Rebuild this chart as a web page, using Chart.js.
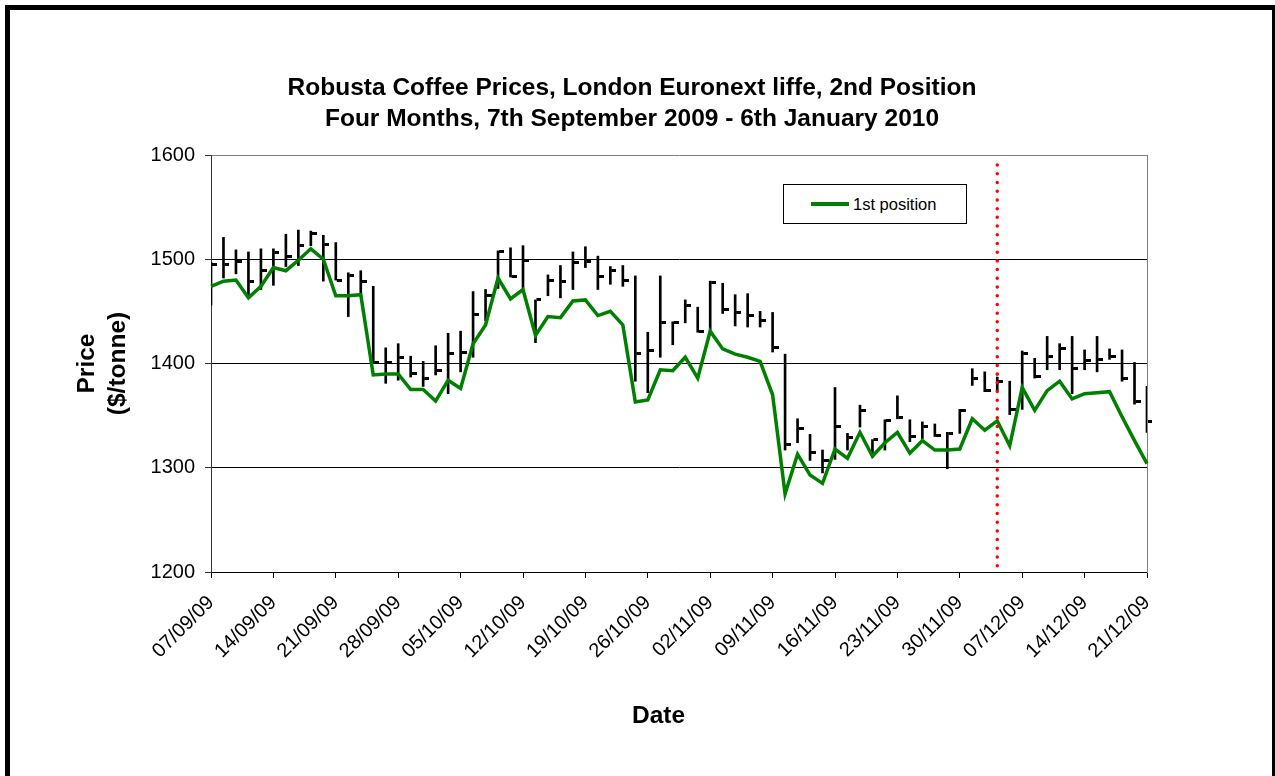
<!DOCTYPE html>
<html>
<head>
<meta charset="utf-8">
<title>Robusta Coffee Prices</title>
<script src="https://cdn.jsdelivr.net/npm/chart.js@4.4.1/dist/chart.umd.min.js"></script>
<style>
    html, body { margin: 0; padding: 0; background: #fff; overflow: hidden; }
    #wrap { position: relative; width: 1275px; height: 776px; overflow: hidden; }
    #frame {
        position: absolute; left: 5px; top: 5px; width: 1262px; height: 800px;
        border: 5px solid #000; pointer-events: none;
    }
    #title {
        position: absolute; left: 0; top: 71px; width: 1264px; text-align: center;
        font: bold 24.5px "Liberation Sans", Arial, sans-serif; line-height: 31px; color: #000;
    }
    #legend {
        position: absolute; left: 783px; top: 184px; width: 182px; height: 38px;
        border: 1px solid #000; background: #fff;
        font: 16.5px "Liberation Sans", Arial, sans-serif; color: #000;
    }
    #legend .swatch { position: absolute; left: 27px; top: 17px; width: 38px; height: 4px; }
    #legend .label { position: absolute; left: 69px; top: 9px; line-height: 20px; }
    canvas { position: absolute; left: 0; top: 0; }
</style>
</head>
<body>
<div id="wrap">
    <canvas id="priceChart" width="1275" height="776"></canvas>
    <div id="title">Robusta Coffee Prices, London Euronext liffe, 2nd Position<br>Four Months, 7th September 2009 - 6th January 2010</div>
    <div id="legend"></div>
    <div id="frame"></div>
</div>
<script>
// ===========================
// DATA
// ===========================
const dates = [
    "07/09/09", "08/09/09", "09/09/09", "10/09/09", "11/09/09",
    "14/09/09", "15/09/09", "16/09/09", "17/09/09", "18/09/09",
    "21/09/09", "22/09/09", "23/09/09", "24/09/09", "25/09/09",
    "28/09/09", "29/09/09", "30/09/09", "01/10/09", "02/10/09",
    "05/10/09", "06/10/09", "07/10/09", "08/10/09", "09/10/09",
    "12/10/09", "13/10/09", "14/10/09", "15/10/09", "16/10/09",
    "19/10/09", "20/10/09", "21/10/09", "22/10/09", "23/10/09",
    "26/10/09", "27/10/09", "28/10/09", "29/10/09", "30/10/09",
    "02/11/09", "03/11/09", "04/11/09", "05/11/09", "06/11/09",
    "09/11/09", "10/11/09", "11/11/09", "12/11/09", "13/11/09",
    "16/11/09", "17/11/09", "18/11/09", "19/11/09", "20/11/09",
    "23/11/09", "24/11/09", "25/11/09", "26/11/09", "27/11/09",
    "30/11/09", "01/12/09", "02/12/09", "03/12/09", "04/12/09",
    "07/12/09", "08/12/09", "09/12/09", "10/12/09", "11/12/09",
    "14/12/09", "15/12/09", "16/12/09", "17/12/09", "18/12/09",
    "21/12/09"
];

const tickDates = [
    "07/09/09", "14/09/09", "21/09/09", "28/09/09", "05/10/09", "12/10/09",
    "19/10/09", "26/10/09", "02/11/09", "09/11/09", "16/11/09", "23/11/09",
    "30/11/09", "07/12/09", "14/12/09", "21/12/09"
];

// 1st position (green line)
const firstPosition = [
    1474, 1479, 1480, 1463, 1474, 1492, 1489, 1499, 1510, 1500,
    1465, 1465, 1466, 1389, 1390, 1390, 1375, 1375, 1364, 1384,
    1376, 1419, 1437, 1482, 1462, 1471, 1427, 1445, 1444, 1460,
    1461, 1446, 1450, 1437, 1363, 1365, 1394, 1393, 1406, 1386,
    1431, 1414, 1409, 1406, 1402, 1370, 1275, 1313, 1293, 1285,
    1318, 1309, 1334, 1311, 1324, 1334, 1314, 1326, 1317, 1317,
    1318, 1347, 1336, 1345, 1321, 1377, 1355, 1374, 1383, 1366,
    1371, 1372, 1373, 1349, 1326, 1304
];

// 2nd position high / low / close bars
const secondHigh = [
    1497, 1521, 1509, 1507, 1510, 1510, 1524, 1528, 1527, 1523,
    1516, 1487, 1489, 1474, 1415, 1419, 1407, 1402, 1417, 1429,
    1431, 1469, 1471, 1508, 1511, 1513, 1461, 1485, 1494, 1507,
    1512, 1503, 1493, 1494, 1484, 1430, 1484, 1440, 1461, 1454,
    1479, 1477, 1466, 1467, 1450, 1449, 1409, 1347, 1332, 1317,
    1377, 1333, 1360, 1327, 1346, 1369, 1346, 1344, 1342, 1334,
    1356, 1395, 1392, 1387, 1383, 1412, 1405, 1426, 1419, 1426,
    1413, 1426, 1414, 1413, 1401, 1378
];

const secondLow = [
    1456, 1482, 1486, 1464, 1471, 1475, 1493, 1494, 1513, 1479,
    1480, 1445, 1467, 1400, 1381, 1384, 1387, 1378, 1389, 1371,
    1392, 1406, 1441, 1472, 1483, 1472, 1420, 1465, 1463, 1471,
    1492, 1471, 1476, 1474, 1383, 1372, 1406, 1418, 1439, 1430,
    1432, 1448, 1436, 1435, 1435, 1411, 1317, 1324, 1307, 1295,
    1308, 1317, 1339, 1310, 1317, 1347, 1325, 1328, 1330, 1299,
    1333, 1379, 1373, 1374, 1351, 1356, 1386, 1394, 1394, 1371,
    1394, 1392, 1404, 1383, 1361, 1334
];

const secondClose = [
    1495, 1495, 1498, 1479, 1489, 1506, 1503, 1513, 1525, 1514,
    1480, 1484, 1479, 1401, 1401, 1406, 1390, 1386, 1393, 1410,
    1411, 1447, 1465, 1507, 1483, 1499, 1461, 1480, 1479, 1497,
    1498, 1483, 1489, 1480, 1410, 1412, 1439, 1439, 1456, 1431,
    1478, 1452, 1449, 1446, 1441, 1415, 1322, 1338, 1315, 1307,
    1340, 1329, 1355, 1327, 1345, 1348, 1330, 1340, 1331, 1333,
    1355, 1386, 1374, 1383, 1356, 1410, 1388, 1407, 1414, 1395,
    1403, 1404, 1407, 1386, 1364, 1344
];

// red dotted marker
const markerDate = "03/12/09";
const markerRange = [1206, 1594];

// ===========================
// CLOSE TICK (small dash right of each bar)
// ===========================
const closeTick = document.createElement("canvas");
closeTick.width = 12;
closeTick.height = 3;
const tctx = closeTick.getContext("2d");
tctx.fillStyle = "#000";
tctx.fillRect(7, 0, 5, 3);

// ===========================
// HTML LEGEND
// ===========================
const legendEl = document.getElementById("legend");
legendEl.innerHTML =
    '<span class="swatch" style="background:#008000"></span>' +
    '<span class="label">1st position</span>';

// ===========================
// CHART
// ===========================
const FONT = "'Liberation Sans', Arial, sans-serif";
const ctx = document.getElementById("priceChart").getContext("2d");

new Chart(ctx, {
    type: "bar",
    data: {
        labels: dates,
        datasets: [
            {
                type: "line",
                label: "marker",
                data: markerRange.map(v => ({ x: markerDate, y: v })),
                borderColor: "#ff0000",
                borderWidth: 3.5,
                borderCapStyle: "round",
                borderDash: [0.01, 8.7],
                pointRadius: 0
            },
            {
                type: "line",
                label: "1st position",
                data: firstPosition,
                borderColor: "#008000",
                borderWidth: 3.5,
                pointRadius: 0,
                tension: 0
            },
            {
                type: "line",
                label: "2nd position close",
                data: secondClose,
                showLine: false,
                pointStyle: closeTick,
                pointRadius: 3
            },
            {
                type: "bar",
                label: "2nd position range",
                data: secondLow.map((lo, i) => [lo, secondHigh[i]]),
                backgroundColor: "#000",
                borderWidth: 0,
                barThickness: 2
            }
        ]
    },
    options: {
        responsive: false,
        animation: false,
        events: [],
        layout: { padding: { left: 60, right: 128, top: 155, bottom: 0 } },
        plugins: {
            legend: { display: false },
            tooltip: { enabled: false }
        },
        scales: {
            x: {
                type: "category",
                offset: false,
                // keep only the weekly (Monday) ticks
                afterBuildTicks: s => {
                    s.ticks = s.ticks.filter(t => tickDates.includes(dates[t.value]));
                },
                grid: {
                    offset: false,
                    drawOnChartArea: false,
                    tickLength: 6,
                    tickColor: "#000"
                },
                border: { color: "#000" },
                ticks: {
                    autoSkip: false,
                    maxRotation: 45,
                    minRotation: 45,
                    padding: 13,
                    color: "#000",
                    font: { family: FONT, size: 20 }
                },
                title: {
                    display: true,
                    text: "Date      ",
                    color: "#000",
                    font: { family: FONT, size: 24.5, weight: "bold", lineHeight: 1.265 },
                    padding: { top: 0, bottom: 44 }
                },
                afterFit: s => { s.height = 204; }
            },
            y: {
                min: 1200,
                max: 1600,
                ticks: {
                    stepSize: 100,
                    padding: 10,
                    color: "#000",
                    font: { family: FONT, size: 20 },
                    callback: v => String(v)
                },
                grid: {
                    color: c => (c.tick && c.tick.value === 1600) ? "#808080" : "#000",
                    tickColor: "#333",
                    tickLength: 6
                },
                border: { color: "#333" },
                title: {
                    display: true,
                    text: ["Price", "($/tonne)"],
                    color: "#000",
                    font: { family: FONT, size: 24.5, weight: "bold", lineHeight: 1.265 },
                    padding: { top: 12, bottom: 0 }
                },
                afterFit: s => { s.width = 151; }
            },
            yRight: {
                position: "right",
                min: 1200,
                max: 1600,
                ticks: { display: false },
                grid: { drawOnChartArea: false, drawTicks: false },
                border: { color: "#808080" },
                afterFit: s => { s.width = 0; }
            }
        }
    }
});
</script>
</body>
</html>
